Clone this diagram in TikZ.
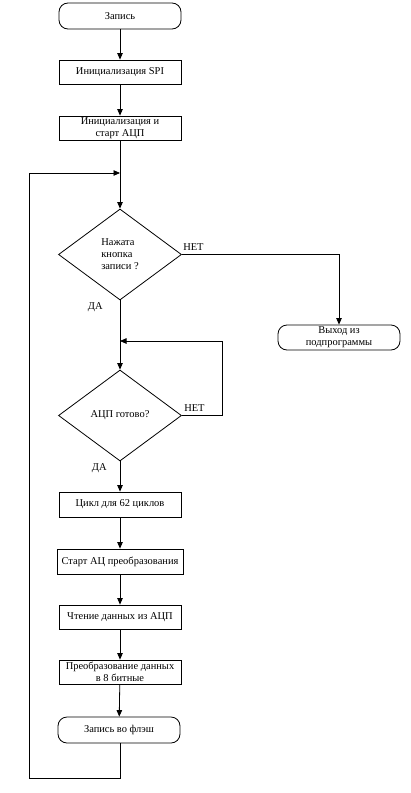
\documentclass[tikz,border=0pt]{standalone}
\usepackage{fontspec}
\setmainfont{Liberation Serif}
\usepackage{tikz}
\usetikzlibrary{shapes.geometric,arrows.meta}

\begin{document}
\begin{tikzpicture}[x=1bp, y=-1bp, line width=0.8bp,
    every node/.style={font=\fontsize{10.5}{12}\selectfont, inner sep=1bp},
    box/.style={draw, rectangle, minimum width=122bp, minimum height=24bp, align=center},
    term/.style={draw, rectangle, rounded corners=9bp, minimum width=122bp, minimum height=26bp, align=center},
    ask/.style={draw, diamond, minimum width=123bp, minimum height=91bp, inner sep=0pt, align=left},
    arr/.style={-{Triangle[length=6.5bp,width=5.5bp]}}]
            \useasboundingbox (0,0) rectangle (410,793);
            % Blocks
            \node[term] (start) at (120,16) {Запись};
            \node[box] (spi) at (120,72) {Инициализация SPI};
            \node[box] (adc) at (120,128) {Инициализация и\\старт АЦП};
            \coordinate (loop) at (120,173);
            \node[ask] (key) at (120,254.5) {Нажата\\кнопка\\записи ?};
            \node[term, minimum height=25bp] (exit) at (339,337.5) {Выход из\\подпрограммы};
            \coordinate (wait) at (120,341);
            \coordinate (retry) at (222,341);
            \node[ask] (ready) at (120,415.5) {АЦП готово?};
            \node[box, minimum height=25bp] (cycle) at (120,504.5) {Цикл для 62 циклов};
            \node[box, minimum width=126bp, minimum height=25bp] (conv) at (120,561.5) {Старт АЦ преобразования};
            \node[box] (read) at (120,617) {Чтение данных из АЦП};
            \node[box] (pack) at (120,672) {Преобразование данных\\в 8 битные};
            \node[term] (flash) at (119,730) {Запись во флэш};
            \coordinate (back) at (29,778);
            % Connectors
            \draw[arr] (start) -- (spi);
            \draw[arr] (spi) -- (adc);
            \draw (adc) -- (loop);
            \draw[arr] (loop) -- (key);
            \draw[arr] (key.east) -| (exit);
            \draw (key) -- (wait);
            \draw[arr] (wait) -- (ready);
            \draw[arr] (ready.east) -| (retry) -- (wait);
            \draw[arr] (ready) -- (cycle);
            \draw[arr] (cycle) -- (conv);
            \draw[arr] (conv) -- (read);
            \draw[arr] (read) -- (pack);
            \draw[arr] (pack) -- (flash);
            \draw[arr] (flash.south -| loop) |- (back) |- (loop);
            % Labels
            \node[anchor=south west] at ([yshift=3bp]key.east) {НЕТ};
            \node[anchor=north east] at ([xshift=-16bp,yshift=-1bp]key.south) {ДА};
            \node[anchor=south west] at ([xshift=1bp,yshift=3bp]ready.east) {НЕТ};
            \node[anchor=north east] at ([xshift=-12bp,yshift=-1bp]ready.south) {ДА};
        \end{tikzpicture}
\end{document}
